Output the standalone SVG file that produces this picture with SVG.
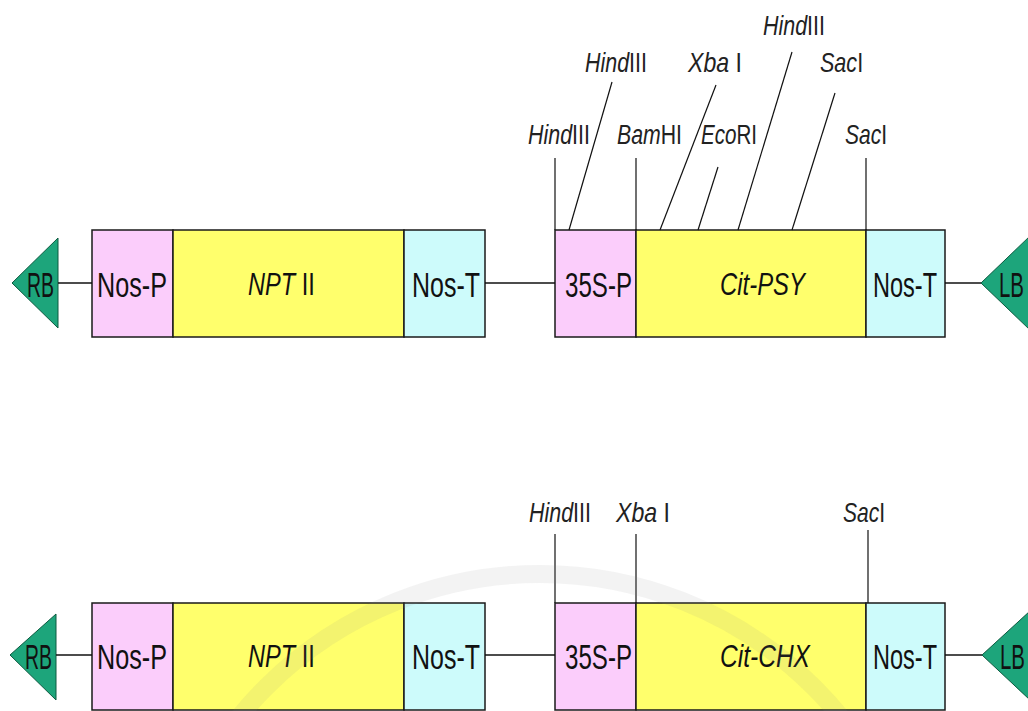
<svg xmlns="http://www.w3.org/2000/svg" width="1028" height="711" viewBox="0 0 1028 711">
<style>
.box{stroke:#1a1a1a;stroke-width:1.5}
.p{fill:#fbcdfb}.g{fill:#ffff6c}.t{fill:#cdfbfb}
.tri{fill:#1da57b;stroke:#0d5a40;stroke-width:1}
.lbl{font-family:"Liberation Sans",Arial,sans-serif;font-size:35px;fill:#111}
.ilbl{font-family:"Liberation Sans",Arial,sans-serif;font-size:31px;fill:#111}
.site{font-family:"Liberation Sans",Arial,sans-serif;font-size:28px;fill:#222}
.it{font-style:italic}
.conn{stroke:#111;stroke-width:1.5;fill:none}
.sl{stroke:#111;stroke-width:1.2;fill:none}
</style>
<rect width="1028" height="711" fill="#ffffff"/>

<!-- Row 1 -->
<g id="rb1"><polygon class="tri" points="12,283 58,238 58,328"/><text class="lbl" x="27" y="297" textLength="27" lengthAdjust="spacingAndGlyphs">RB</text></g>
<g id="nosp1"><rect class="box p" x="92" y="230" width="81" height="107"/><text class="lbl" x="97" y="297" textLength="70" lengthAdjust="spacingAndGlyphs">Nos-P</text></g>
<g id="npt1"><rect class="box g" x="173" y="230" width="231" height="107"/><text class="ilbl" transform="translate(248,295) scale(0.76,1)"><tspan class="it">NPT</tspan> II</text></g>
<g id="nost1"><rect class="box t" x="404" y="230" width="81" height="107"/><text class="lbl" x="412" y="297" textLength="68" lengthAdjust="spacingAndGlyphs">Nos-T</text></g>
<g id="p35s1"><rect class="box p" x="555" y="230" width="81" height="107"/><text class="lbl" x="565" y="297" textLength="67" lengthAdjust="spacingAndGlyphs">35S-P</text></g>
<g id="psy1"><rect class="box g" x="636" y="230" width="230" height="107"/><text class="ilbl it" x="720" y="295" textLength="85" lengthAdjust="spacingAndGlyphs">Cit-PSY</text></g>
<g id="nost1b"><rect class="box t" x="866" y="230" width="79" height="107"/><text class="lbl" x="873" y="297" textLength="64" lengthAdjust="spacingAndGlyphs">Nos-T</text></g>
<g id="lb1"><polygon class="tri" points="981,283 1030,236 1030,330"/><text class="lbl" x="999" y="297" textLength="25" lengthAdjust="spacingAndGlyphs">LB</text></g>

<!-- Row 2 -->
<g id="rb2"><polygon class="tri" points="10,655 56,614 56,700"/><text class="lbl" x="25" y="669" textLength="27" lengthAdjust="spacingAndGlyphs">RB</text></g>
<g id="nosp2"><rect class="box p" x="92" y="603" width="81" height="107"/><text class="lbl" x="97" y="669" textLength="70" lengthAdjust="spacingAndGlyphs">Nos-P</text></g>
<g id="npt2"><rect class="box g" x="173" y="603" width="231" height="107"/><text class="ilbl" transform="translate(248,667) scale(0.76,1)"><tspan class="it">NPT</tspan> II</text></g>
<g id="nost2"><rect class="box t" x="404" y="603" width="81" height="107"/><text class="lbl" x="412" y="669" textLength="68" lengthAdjust="spacingAndGlyphs">Nos-T</text></g>
<g id="p35s2"><rect class="box p" x="555" y="603" width="81" height="107"/><text class="lbl" x="565" y="669" textLength="67" lengthAdjust="spacingAndGlyphs">35S-P</text></g>
<g id="chx2"><rect class="box g" x="636" y="603" width="230" height="107"/><text class="ilbl it" x="720" y="667" textLength="90" lengthAdjust="spacingAndGlyphs">Cit-CHX</text></g>
<g id="nost2b"><rect class="box t" x="866" y="603" width="79" height="107"/><text class="lbl" x="873" y="669" textLength="64" lengthAdjust="spacingAndGlyphs">Nos-T</text></g>
<g id="lb2"><polygon class="tri" points="982,655 1030,611 1030,700"/><text class="lbl" x="1000" y="669" textLength="25" lengthAdjust="spacingAndGlyphs">LB</text></g>

<!-- Connectors -->
<g id="connectors">
<line class="conn" x1="58" y1="283" x2="92" y2="283"/>
<line class="conn" x1="485" y1="283" x2="555" y2="283"/>
<line class="conn" x1="945" y1="283" x2="981" y2="283"/>
<line class="conn" x1="56" y1="655" x2="92" y2="655"/>
<line class="conn" x1="485" y1="655" x2="555" y2="655"/>
<line class="conn" x1="945" y1="655" x2="982" y2="655"/>
<line class="sl" x1="555" y1="158" x2="555" y2="230"/>
<line class="sl" x1="612" y1="82" x2="569" y2="230"/>
<line class="sl" x1="636" y1="158" x2="636" y2="230"/>
<line class="sl" x1="716" y1="85" x2="660" y2="230"/>
<line class="sl" x1="718" y1="167" x2="698" y2="230"/>
<line class="sl" x1="792" y1="52" x2="738" y2="230"/>
<line class="sl" x1="835" y1="93" x2="792" y2="230"/>
<line class="sl" x1="866" y1="158" x2="866" y2="230"/>
<line class="sl" x1="555" y1="534" x2="555" y2="603"/>
<line class="sl" x1="636" y1="534" x2="636" y2="603"/>
<line class="sl" x1="868" y1="530" x2="868" y2="603"/>
</g>

<!-- Site labels -->
<g id="sites">
<text id="s-hind1" class="site" transform="translate(528,144) scale(0.766,1)"><tspan class="it">Hind</tspan>III</text>
<text id="s-hind2" class="site" transform="translate(585,72) scale(0.766,1)"><tspan class="it">Hind</tspan>III</text>
<text id="s-bam" class="site" transform="translate(617,144) scale(0.76,1)"><tspan class="it">Bam</tspan>HI</text>
<text id="s-xba1" class="site" transform="translate(688,72) scale(0.826,1)"><tspan class="it">Xba</tspan> I</text>
<text id="s-eco" class="site" transform="translate(701,144) scale(0.735,1)"><tspan class="it">Eco</tspan>RI</text>
<text id="s-hind3" class="site" transform="translate(763,35) scale(0.766,1)"><tspan class="it">Hind</tspan>III</text>
<text id="s-sac1" class="site" transform="translate(820,72) scale(0.77,1)"><tspan class="it">Sac</tspan>I</text>
<text id="s-sac2" class="site" transform="translate(845,144) scale(0.75,1)"><tspan class="it">Sac</tspan>I</text>
<text id="s-hind4" class="site" transform="translate(529,522) scale(0.766,1)"><tspan class="it">Hind</tspan>III</text>
<text id="s-xba2" class="site" transform="translate(616,522) scale(0.826,1)"><tspan class="it">Xba</tspan> I</text>
<text id="s-sac3" class="site" transform="translate(843,522) scale(0.75,1)"><tspan class="it">Sac</tspan>I</text>
</g>

<circle cx="540" cy="962" r="388" fill="none" stroke="#888" stroke-opacity="0.1" stroke-width="18"/>
</svg>
